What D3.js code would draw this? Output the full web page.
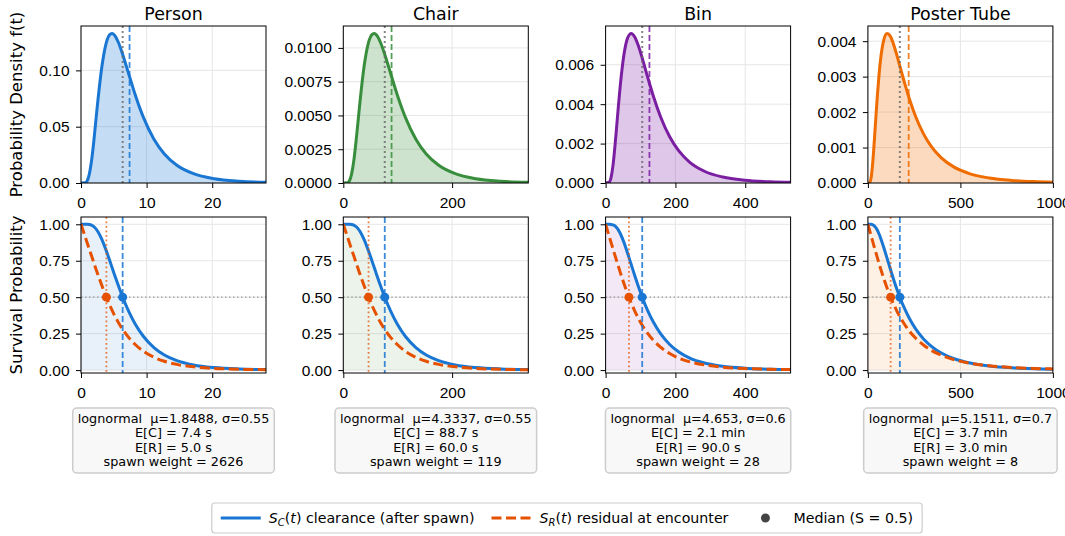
<!DOCTYPE html>
<html>
<head>
<meta charset="utf-8">
<script src="https://cdn.jsdelivr.net/npm/d3@7"></script>
<style>
body { margin: 0; background: #fff; }
svg { font-family: "DejaVu Sans", sans-serif; }
</style>
</head>
<body>
<svg id="chart" width="1065" height="536"></svg>
<script>
const panelNames = ["Person", "Chair", "Bin", "Poster Tube"];

// time grid (s) and curve values
const tPerson = [0, 0.64, 0.95, 1.27, 1.59, 1.91, 2.22, 2.54, 3.18, 3.81, 4.45, 4.76, 5.08, 5.72, 6.35, 7.31, 8.26, 9.53, 11.12, 12.71, 14.61, 17.15, 20.33, 24.14, 28.59];
const pdfPerson = [0, 0.00018, 0.00199, 0.00789, 0.01906, 0.03466, 0.05278, 0.07126, 0.10321, 0.12363, 0.13217, 0.13277, 0.13145, 0.12456, 0.11418, 0.09613, 0.07837, 0.05800, 0.03888, 0.02580, 0.01577, 0.00828, 0.00381, 0.00158, 0.00060];
const scPerson = [1, 0.99999, 0.99972, 0.99828, 0.99414, 0.9857, 0.97185, 0.95215, 0.8962, 0.82348, 0.74167, 0.69955, 0.65748, 0.57597, 0.5, 0.39967, 0.31664, 0.23047, 0.15446, 0.1038, 0.06496, 0.03546, 0.01722, 0.00761, 0.00312];
const srPerson = [1, 0.914, 0.8711, 0.8281, 0.7853, 0.7427, 0.7006, 0.6593, 0.5797, 0.5057, 0.4384, 0.4074, 0.3782, 0.3252, 0.279, 0.2212, 0.1752, 0.1285, 0.0877, 0.0603, 0.039, 0.0223, 0.0114, 0.0054, 0.0024];

const tChair = [0, 7.6, 11.4, 15.2, 19.1, 22.9, 26.7, 30.5, 38.1, 45.7, 53.4, 57.2, 61.0, 68.6, 76.2, 87.7, 99.1, 114.3, 133.4, 152.4, 175.3, 205.8, 243.9, 289.6, 343.0];
const pdfChair = [0, 0.0000148, 0.000166, 0.000658, 0.001589, 0.002889, 0.004399, 0.005939, 0.008603, 0.010304, 0.011017, 0.011067, 0.010956, 0.010382, 0.009517, 0.008012, 0.006532, 0.004835, 0.003241, 0.00215, 0.001315, 0.00069, 0.000318, 0.000132, 0.0000503];
const scChair = [1, 0.99999, 0.99972, 0.99828, 0.99414, 0.9857, 0.97185, 0.95215, 0.8962, 0.82348, 0.74167, 0.69955, 0.65748, 0.57597, 0.5, 0.39967, 0.31664, 0.23047, 0.15446, 0.1038, 0.06496, 0.03546, 0.01722, 0.00761, 0.00312];
const srChair = [1, 0.914, 0.8711, 0.8281, 0.7853, 0.7427, 0.7006, 0.6593, 0.5797, 0.5057, 0.4384, 0.4074, 0.3782, 0.3252, 0.279, 0.2212, 0.1752, 0.1285, 0.0877, 0.0603, 0.039, 0.0223, 0.0114, 0.0054, 0.0024];

const tBin = [0, 10.5, 15.7, 21.0, 26.2, 31.5, 36.7, 42.0, 52.5, 62.9, 73.4, 83.9, 94.4, 104.9, 120.6, 136.4, 157.4, 183.6, 209.8, 241.3, 283.2, 335.7, 398.6, 472.1, 545.5];
const pdfBin = [0, 0.0000402, 0.000285, 0.000868, 0.001758, 0.002821, 0.003919, 0.004937, 0.006505, 0.007353, 0.007588, 0.007394, 0.006935, 0.006338, 0.005364, 0.004431, 0.003363, 0.002344, 0.001626, 0.001051, 0.000596, 0.000302, 0.00014, 0.0000608, 0.000028];
const scBin = [1, 0.99994, 0.99922, 0.99634, 0.98957, 0.97761, 0.95991, 0.93665, 0.876, 0.8027, 0.72392, 0.64498, 0.5697, 0.5, 0.40788, 0.33095, 0.24959, 0.17548, 0.124, 0.08254, 0.04891, 0.02627, 0.01304, 0.00609, 0.003];
const srBin = [1, 0.9165, 0.8747, 0.833, 0.7916, 0.7505, 0.71, 0.6704, 0.5945, 0.5244, 0.4606, 0.4034, 0.3527, 0.3081, 0.2514, 0.2053, 0.1571, 0.1132, 0.0822, 0.0567, 0.0353, 0.0201, 0.0107, 0.0054, 0.0028];

const tPoster = [0, 8.6, 17.3, 25.9, 34.5, 43.2, 51.8, 60.4, 69.0, 86.3, 103.6, 120.8, 138.1, 155.3, 172.6, 198.5, 224.4, 258.9, 302.1, 345.2, 397.0, 466.0, 552.3, 655.9, 776.7, 897.5, 1001.1];
const pdfPoster = [0, 0.000007, 0.000148, 0.00056, 0.001175, 0.001859, 0.002508, 0.003064, 0.003505, 0.004045, 0.004217, 0.004143, 0.003923, 0.003627, 0.003302, 0.002815, 0.002368, 0.001862, 0.001371, 0.001011, 0.000707, 0.000447, 0.000259, 0.000141, 0.0000729, 0.0000396, 0.0000243];
const scPoster = [1, 1, 0.9995, 0.99664, 0.98925, 0.97617, 0.95728, 0.93315, 0.90473, 0.83896, 0.76721, 0.69483, 0.62506, 0.55985, 0.5, 0.42086, 0.35387, 0.28123, 0.21203, 0.16104, 0.11704, 0.07796, 0.04829, 0.02825, 0.01583, 0.00925, 0.00601];
const srPoster = [1, 0.9609, 0.9217, 0.8827, 0.8438, 0.8053, 0.7675, 0.7305, 0.6945, 0.6262, 0.5633, 0.5061, 0.4545, 0.4081, 0.3667, 0.3128, 0.2674, 0.2179, 0.17, 0.1337, 0.1014, 0.0713, 0.0472, 0.0297, 0.018, 0.0113, 0.0078];

const medianC = [6.35, 76.2, 104.9, 172.6];   // S_C = 0.5
const medianR = [3.87, 46.4, 66.9, 122.9];    // S_R = 0.5
const meanC = [7.4, 88.7, 125.6, 220.5];
const xMax = [28.2, 340, 530, 1000];

const xTicks = [[0, 10, 20], [0, 200], [0, 200, 400], [0, 500, 1000]];
const pdfTicks = [[0, 0.05, 0.10], [0, 0.0025, 0.005, 0.0075, 0.01], [0, 0.002, 0.004, 0.006], [0, 0.001, 0.002, 0.003, 0.004]];
const pdfTickDigits = [2, 4, 3, 3];
const survTicks = [0, 0.25, 0.5, 0.75, 1];

const mu = ["1.8488", "4.3337", "4.653", "5.1511"];
const sigma = ["0.55", "0.55", "0.6", "0.7"];
const meanText = ["7.4 s", "88.7 s", "2.1 min", "3.7 min"];
const residText = ["5.0 s", "60.0 s", "90.0 s", "3.0 min"];
const spawnWeight = [2626, 119, 28, 8];

const panelColors = ["#1976d2", "#388e3c", "#7b1fa2", "#ef6c00"];
const clearColor = "#1976d2";
const residColor = "#e65100";

const panels = [
  {t: tPerson, pdf: pdfPerson, sc: scPerson, sr: srPerson},
  {t: tChair, pdf: pdfChair, sc: scChair, sr: srChair},
  {t: tBin, pdf: pdfBin, sc: scBin, sr: srBin},
  {t: tPoster, pdf: pdfPoster, sc: scPoster, sr: srPoster}
];

const svg = d3.select("#chart");
const defs = svg.append("defs");
const plotW = 185, step = 262.3, left0 = 81;
const topRow = {y: 26, h: 157}, botRow = {y: 217, h: 156};
const gridColor = "#e6e6e6";
const tickFont = 15.5;

function styleAxis(g) {
  g.select(".domain").remove();
  g.selectAll(".tick line").attr("stroke", "#000").attr("stroke-width", 1);
  g.selectAll(".tick text").attr("fill", "#000").attr("font-size", tickFont);
}

function drawGrid(g, x, y, xt, yt, row) {
  g.selectAll(".gx").data(xt).enter().append("line")
    .attr("x1", d => x(d)).attr("x2", d => x(d))
    .attr("y1", row.y).attr("y2", row.y + row.h)
    .attr("stroke", gridColor).attr("stroke-width", 1);
  g.selectAll(".gy").data(yt).enter().append("line")
    .attr("x1", x.range()[0]).attr("x2", x.range()[1])
    .attr("y1", d => y(d)).attr("y2", d => y(d))
    .attr("stroke", gridColor).attr("stroke-width", 1);
}

panels.forEach((p, i) => {
  const L = left0 + i * step;
  const col = panelColors[i];
  const x = d3.scaleLinear().domain([0, xMax[i]]).range([L, L + plotW]);
  const yf = d3.scaleLinear().domain([0, d3.max(p.pdf) * 1.05]).range([topRow.y + topRow.h, topRow.y]);
  const ys = d3.scaleLinear().domain([-0.02, 1.05]).range([botRow.y + botRow.h, botRow.y]);

  defs.append("clipPath").attr("id", "ct" + i).append("rect")
    .attr("x", L).attr("y", topRow.y).attr("width", plotW).attr("height", topRow.h);
  defs.append("clipPath").attr("id", "cb" + i).append("rect")
    .attr("x", L).attr("y", botRow.y).attr("width", plotW).attr("height", botRow.h);

  // ---- density panel
  const gt = svg.append("g");
  drawGrid(gt, x, yf, xTicks[i], pdfTicks[i], topRow);
  const inner = gt.append("g").attr("clip-path", `url(#ct${i})`);
  const pdfPts = p.t.map((t, k) => [t, p.pdf[k]]);

  inner.append("path").datum(pdfPts)
    .attr("d", d3.area().x(d => x(d[0])).y0(yf(0)).y1(d => yf(d[1])).curve(d3.curveMonotoneX))
    .attr("fill", col).attr("fill-opacity", 0.25);
  inner.append("path").datum(pdfPts)
    .attr("d", d3.line().x(d => x(d[0])).y(d => yf(d[1])).curve(d3.curveMonotoneX))
    .attr("fill", "none").attr("stroke", col).attr("stroke-width", 3);
  inner.append("line")
    .attr("x1", x(medianC[i])).attr("x2", x(medianC[i]))
    .attr("y1", topRow.y).attr("y2", topRow.y + topRow.h)
    .attr("stroke", "#666").attr("stroke-opacity", 0.8).attr("stroke-width", 2).attr("stroke-dasharray", "2,3");
  inner.append("line")
    .attr("x1", x(meanC[i])).attr("x2", x(meanC[i]))
    .attr("y1", topRow.y).attr("y2", topRow.y + topRow.h)
    .attr("stroke", col).attr("stroke-opacity", 0.85).attr("stroke-width", 1.8).attr("stroke-dasharray", "6,3");

  gt.append("g").attr("transform", `translate(0,${topRow.y + topRow.h})`)
    .call(d3.axisBottom(x).tickValues(xTicks[i]).tickSize(5).tickPadding(9).tickFormat(d3.format("d")))
    .call(styleAxis);
  gt.append("g").attr("transform", `translate(${L},0)`)
    .call(d3.axisLeft(yf).tickValues(pdfTicks[i]).tickSize(5).tickPadding(6.5).tickFormat(d3.format("." + pdfTickDigits[i] + "f")))
    .call(styleAxis);
  gt.append("rect").attr("x", L).attr("y", topRow.y).attr("width", plotW).attr("height", topRow.h)
    .attr("fill", "none").attr("stroke", "#000").attr("stroke-width", 1);

  svg.append("text").attr("x", L + plotW / 2).attr("y", 19.5)
    .attr("text-anchor", "middle").attr("font-size", 17.4).text(panelNames[i]);

  // ---- survival panel
  const gb = svg.append("g");
  drawGrid(gb, x, ys, xTicks[i], survTicks, botRow);
  const innerB = gb.append("g").attr("clip-path", `url(#cb${i})`);
  const scPts = p.t.map((t, k) => [t, p.sc[k]]);
  const srPts = p.t.map((t, k) => [t, p.sr[k]]);

  innerB.append("path").datum(scPts)
    .attr("d", d3.area().x(d => x(d[0])).y0(ys(0)).y1(d => ys(d[1])).curve(d3.curveMonotoneX))
    .attr("fill", col).attr("fill-opacity", 0.1);
  innerB.append("line")
    .attr("x1", L).attr("x2", L + plotW).attr("y1", ys(0.5)).attr("y2", ys(0.5))
    .attr("stroke", "#999").attr("stroke-width", 1.2).attr("stroke-dasharray", "1.5,2.5");
  innerB.append("path").datum(scPts)
    .attr("d", d3.line().x(d => x(d[0])).y(d => ys(d[1])).curve(d3.curveMonotoneX))
    .attr("fill", "none").attr("stroke", clearColor).attr("stroke-width", 3);
  innerB.append("path").datum(srPts)
    .attr("d", d3.line().x(d => x(d[0])).y(d => ys(d[1])).curve(d3.curveMonotoneX))
    .attr("fill", "none").attr("stroke", residColor).attr("stroke-width", 3).attr("stroke-dasharray", "10,4.5");
  innerB.append("line")
    .attr("x1", x(medianC[i])).attr("x2", x(medianC[i]))
    .attr("y1", botRow.y).attr("y2", botRow.y + botRow.h)
    .attr("stroke", clearColor).attr("stroke-opacity", 0.85).attr("stroke-width", 1.8).attr("stroke-dasharray", "6,3");
  innerB.append("line")
    .attr("x1", x(medianR[i])).attr("x2", x(medianR[i]))
    .attr("y1", botRow.y).attr("y2", botRow.y + botRow.h)
    .attr("stroke", residColor).attr("stroke-opacity", 0.75).attr("stroke-width", 1.8).attr("stroke-dasharray", "1.8,2.7");
  gb.append("circle").attr("cx", x(medianR[i])).attr("cy", ys(0.5)).attr("r", 4.5).attr("fill", residColor);
  gb.append("circle").attr("cx", x(medianC[i])).attr("cy", ys(0.5)).attr("r", 4.5).attr("fill", clearColor);

  gb.append("g").attr("transform", `translate(0,${botRow.y + botRow.h})`)
    .call(d3.axisBottom(x).tickValues(xTicks[i]).tickSize(5).tickPadding(9).tickFormat(d3.format("d")))
    .call(styleAxis);
  gb.append("g").attr("transform", `translate(${L},0)`)
    .call(d3.axisLeft(ys).tickValues(survTicks).tickSize(5).tickPadding(6.5).tickFormat(d3.format(".2f")))
    .call(styleAxis);
  gb.append("rect").attr("x", L).attr("y", botRow.y).attr("width", plotW).attr("height", botRow.h)
    .attr("fill", "none").attr("stroke", "#000").attr("stroke-width", 1);

  // ---- info box
  const cx = L + plotW / 2;
  const lines = [
    `lognormal  μ=${mu[i]}, σ=${sigma[i]}`,
    `E[C] = ${meanText[i]}`,
    `E[R] = ${residText[i]}`,
    `spawn weight = ${spawnWeight[i]}`
  ];
  const box = svg.append("g");
  const rect = box.append("rect");
  const txt = box.selectAll("text").data(lines).enter().append("text")
    .attr("x", cx).attr("y", (d, k) => 418.5 + k * 14.5).attr("dy", "0.35em")
    .attr("text-anchor", "middle").attr("font-size", 12.8).style("white-space", "pre")
    .text(d => d);
  let wMax = 0;
  txt.each(function () { wMax = Math.max(wMax, this.getComputedTextLength()); });
  rect.attr("x", cx - wMax / 2 - 5).attr("y", 408).attr("width", wMax + 10).attr("height", 65)
    .attr("rx", 4).attr("fill", "#f8f8f8").attr("stroke", "#cccccc").attr("stroke-width", 1.5);
});

// y labels
svg.append("text").attr("transform", `translate(21.5,${topRow.y + topRow.h / 2}) rotate(-90)`)
  .attr("text-anchor", "middle").attr("font-size", 16.5).text("Probability Density f(t)");
svg.append("text").attr("transform", `translate(21.5,${botRow.y + botRow.h / 2}) rotate(-90)`)
  .attr("text-anchor", "middle").attr("font-size", 16.5).text("Survival Probability");

// legend
const leg = svg.append("g");
const legRect = leg.append("rect");
const legY = 518, handleW = 40, handleGap = 8, itemGap = 17;
let cursor = 0;

function addLabel(g, xPos, parts) {
  const t = g.append("text").attr("x", xPos).attr("y", legY).attr("dy", "0.35em").attr("font-size", 14.2);
  parts.forEach(pt => {
    const s = t.append("tspan").text(pt.text);
    if (pt.italic) s.attr("font-style", "italic");
    if (pt.sub) s.attr("font-size", 10).attr("dy", 3.5);
    if (pt.up) s.attr("dy", -3.5);
  });
  return t;
}

const legendEntries = [
  {kind: "line", color: clearColor, dash: null,
   parts: [{text: "S", italic: true}, {text: "C", italic: true, sub: true}, {text: "(", up: true}, {text: "t", italic: true}, {text: ") clearance (after spawn)"}]},
  {kind: "line", color: residColor, dash: "10,4.5",
   parts: [{text: "S", italic: true}, {text: "R", italic: true, sub: true}, {text: "(", up: true}, {text: "t", italic: true}, {text: ") residual at encounter"}]},
  {kind: "dot", color: "#444",
   parts: [{text: "Median (S = 0.5)"}]}
];

const gItems = leg.append("g");
legendEntries.forEach(e => {
  if (e.kind === "line") {
    const l = gItems.append("line").attr("x1", cursor).attr("x2", cursor + handleW)
      .attr("y1", legY).attr("y2", legY).attr("stroke", e.color).attr("stroke-width", 3);
    if (e.dash) l.attr("stroke-dasharray", e.dash);
  } else {
    gItems.append("circle").attr("cx", cursor + handleW / 2).attr("cy", legY).attr("r", 4.5).attr("fill", e.color);
  }
  const t = addLabel(gItems, cursor + handleW + handleGap, e.parts);
  cursor += handleW + handleGap + t.node().getComputedTextLength() + itemGap;
});
const totalW = cursor - itemGap;
const legCenter = left0 + (3 * step + plotW) / 2;
const legLeft = legCenter - totalW / 2;
gItems.attr("transform", `translate(${legLeft},0)`);
legRect.attr("x", legLeft - 9).attr("y", legY - 15).attr("width", totalW + 18).attr("height", 30)
  .attr("rx", 3).attr("fill", "#fff").attr("stroke", "#cccccc").attr("stroke-width", 1.2);
</script>
</body>
</html>
